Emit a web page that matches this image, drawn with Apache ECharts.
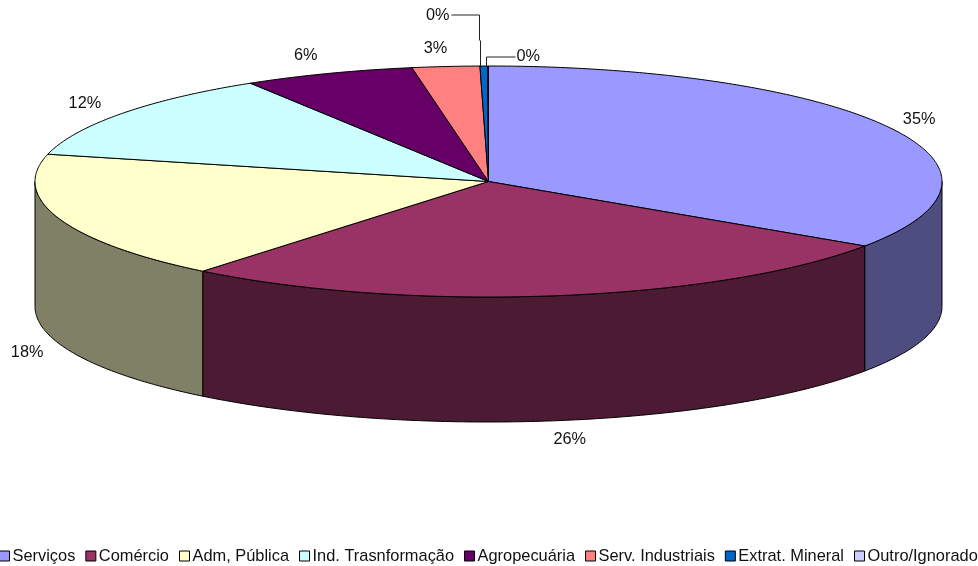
<!DOCTYPE html>
<html><head><meta charset="utf-8">
<style>html,body{margin:0;padding:0;background:#fff}#c{width:978px;height:566px}</style>
<script src="https://cdn.jsdelivr.net/npm/echarts@6/dist/echarts.min.js"></script>
</head><body><div id="c"></div>
<script>
const categories = ['Serviços','Comércio','Adm, Pública','Ind. Trasnformação','Agropecuária','Serv. Industriais','Extrat. Mineral','Outro/Ignorado'];
const values = [34.43, 26.42, 17.95, 12.4, 6.1, 2.4, 0.27, 0.03];
const valueLabels = ['35%','26%','18%','12%','6%','3%','0%','0%'];
const topColors = ['#9999FF','#993366','#FFFFCC','#CCFFFF','#660066','#FF8080','#0066CC','#CCCCFF'];
const sideColors = ['#4D4D80','#4D1A33','#808066','#668080','#330033','#804040','#003366','#666680'];

const font = '16.3px "Liberation Sans", Arial, sans-serif';
const textColor = '#111';
const CX = 488.5, CY = 181.5, RX = 453.5, RY = 115.5, DEPTH = 125;
const LABEL_RX = 489, LABEL_RY = 134;
const labelNudgeX = [-1, 9, 2, -8, -10, -7, 0, 0];
const labelNudgeY = [1, 0, 3, 1, -1, 0, 0, 0];
const total = values.reduce((a, b) => a + b, 0);
const starts = [];
values.reduce((acc, v, i) => { starts[i] = acc; return acc + v; }, 0);
const toAngle = v => v / total * 2 * Math.PI;
const pt = (a, dy) => [CX + RX * Math.sin(a), CY - RY * Math.cos(a) + (dy || 0)];

function arcPoints(a0, a1, dy) {
  const n = Math.max(2, Math.ceil((a1 - a0) / 0.01));
  const out = [];
  for (let k = 0; k <= n; k++) out.push(pt(a0 + (a1 - a0) * k / n, dy));
  return out;
}

function renderSlice(i) {
  return function (params, api) {
    const a0 = toAngle(starts[i]);
    const a1 = a0 + toAngle(api.value(0));
    const mid = (a0 + a1) / 2;
    const children = [];
    const w0 = Math.max(a0, Math.PI / 2), w1 = Math.min(a1, Math.PI * 1.5);
    if (w1 > w0) {
      const upper = arcPoints(w0, w1, 0), lower = arcPoints(w0, w1, DEPTH).reverse();
      children.push({ type: 'polygon', shape: { points: upper.concat(lower) },
        style: { fill: sideColors[i], stroke: '#000', lineWidth: 1 } });
    }
    children.push({ type: 'polygon', shape: { points: [[CX, CY]].concat(arcPoints(a0, a1, 0)) },
      style: { fill: topColors[i], stroke: '#000', lineWidth: 1, lineJoin: 'bevel' } });

    const tip = pt(mid);
    if (i === 6) {
      const x = Math.round(tip[0]) - 3.5;
      children.push({ type: 'polyline', z2: 5, shape: { points: [[x, tip[1]], [x, tip[1] - 25], [x - 1, tip[1] - 26], [x - 1, tip[1] - 51], [x - 29, tip[1] - 51]] },
        style: { fill: null, stroke: '#222', lineWidth: 1 } });
      children.push({ type: 'text', z2: 5, style: { text: valueLabels[i], x: x - 31, y: tip[1] - 50, align: 'right', verticalAlign: 'middle', font, fill: textColor } });
    } else if (i === 7) {
      const x = Math.round(tip[0]) - 1.5;
      children.push({ type: 'polyline', z2: 5, shape: { points: [[x, tip[1]], [x, tip[1] - 9], [x + 29, tip[1] - 9]] },
        style: { fill: null, stroke: '#222', lineWidth: 1 } });
      children.push({ type: 'text', z2: 5, style: { text: valueLabels[i], x: x + 30, y: tip[1] - 9, align: 'left', verticalAlign: 'middle', font, fill: textColor } });
    } else {
      const lx = CX + LABEL_RX * Math.sin(mid) + labelNudgeX[i];
      const ly = CY - LABEL_RY * Math.cos(mid) + (Math.cos(mid) < 0 ? DEPTH : 0) + labelNudgeY[i];
      children.push({ type: 'text', z2: 5, style: { text: valueLabels[i], x: lx, y: ly, align: 'center', verticalAlign: 'middle', font, fill: textColor } });
    }
    return { type: 'group', children };
  };
}

const chart = echarts.init(document.getElementById('c'), null, { renderer: 'canvas' });
chart.setOption({
  animation: false,
  backgroundColor: '#fff',
  color: topColors,
  legend: {
    data: categories, left: -1, top: 548, width: 1100, padding: 0, itemGap: 10, itemWidth: 10, itemHeight: 10, icon: 'rect',
    selectedMode: false,
    itemStyle: { borderColor: '#000', borderWidth: 1 },
    textStyle: { fontFamily: '"Liberation Sans", Arial, sans-serif', fontSize: 16.4, color: textColor, padding: [0, 0, 0, -2] }
  },
  series: categories.map((name, i) => ({
    type: 'custom', name, coordinateSystem: 'none', silent: true,
    itemStyle: { color: topColors[i] },
    data: [[values[i]]],
    encode: { value: 0 },
    renderItem: renderSlice(i)
  }))
});
</script></body></html>
